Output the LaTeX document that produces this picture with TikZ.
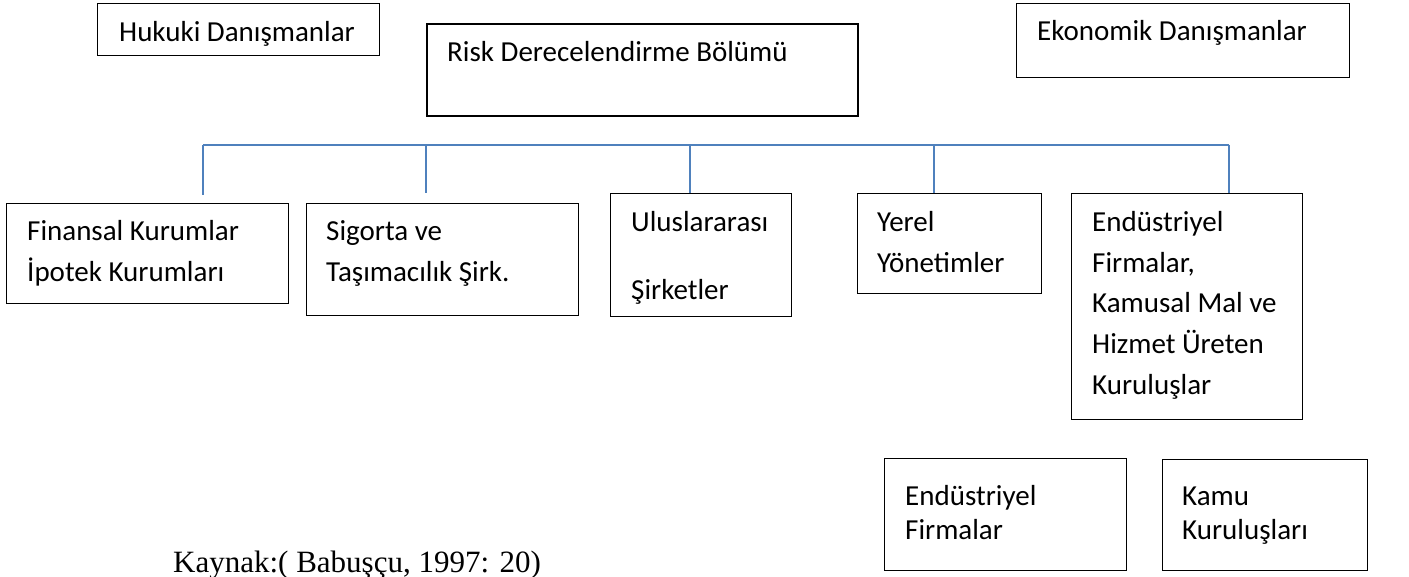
\documentclass[tikz,border=0pt]{standalone}
\usepackage{fontspec}
\setmainfont{Carlito}
\newfontfamily\kaynakfont{Liberation Serif}
\definecolor{busblue}{RGB}{79,129,189}

\begin{document}
\begin{tikzpicture}[x=1pt, y=-1pt,
  box/.style={draw, line width=1.3pt, inner sep=0pt, anchor=north west},
  txt/.style={anchor=base west, inner sep=0pt, align=left, font=\fontsize{29}{41}\selectfont},
  bus/.style={draw=busblue, line width=1.6pt}]
\useasboundingbox (0,0) rectangle (1409,577);

% top row
\node[box, minimum width=282pt, minimum height=52pt] (hukuki) at (97,3) {};
\node[box, line width=2pt, minimum width=431pt, minimum height=92pt] (risk) at (426,23) {};
\node[box, minimum width=333pt, minimum height=74pt] (ekonomik) at (1016,3) {};
\node[txt] (hukukiT) at (119,42) {Hukuki Danışmanlar};
\node[txt] (riskT) at (447,62) {Risk Derecelendirme Bölümü};
\node[txt] (ekonomikT) at (1037,41) {Ekonomik Danışmanlar};

% second row (text placed at the baseline of its last line)
\node[box, minimum width=282pt, minimum height=100pt] (finansal) at (6,203) {};
\node[box, minimum width=272pt, minimum height=112pt] (sigorta) at (306,203) {};
\node[box, minimum width=181pt, minimum height=123pt] (ulus) at (610,193) {};
\node[box, minimum width=184pt, minimum height=100pt] (yerel) at (857,193) {};
\node[box, minimum width=231pt, minimum height=226pt] (endkamu) at (1071,193) {};
\node[txt] (finansalT) at (27,282) {Finansal Kurumlar\\İpotek Kurumları};
\node[txt] (sigortaT) at (326,282) {Sigorta ve\\Taşımacılık Şirk.};
\node[txt] (ulusT) at (631,300) {Uluslararası\\[27pt]Şirketler};
\node[txt] (yerelT) at (877,273) {Yerel\\Yönetimler};
\node[txt] (endkamuT) at (1092,395) {Endüstriyel\\Firmalar,\\Kamusal Mal ve\\Hizmet Üreten\\Kuruluşlar};

% third row
\node[box, minimum width=242pt, minimum height=112pt] (endfirma) at (884,458) {};
\node[box, minimum width=205pt, minimum height=111pt] (kamu) at (1162,459) {};
\node[txt, font=\fontsize{29}{34}\selectfont] (endfirmaT) at (905,539) {Endüstriyel\\Firmalar};
\node[txt, font=\fontsize{29}{34}\selectfont] (kamuT) at (1182,539) {Kamu\\Kuruluşları};

% source
\node[anchor=base west, inner sep=0pt, font=\kaynakfont\fontsize{31}{36}\selectfont] (kaynak) at (173,572) {Kaynak:( Babuşçu, 1997: 20)};

% blue bus
\coordinate (bw) at (203,145);
\coordinate (b2) at (426,145);
\coordinate (b3) at (690,145);
\coordinate (b4) at (934,145);
\coordinate (be) at (1229,145);
\coordinate (d1) at (203,195);
\coordinate (d2) at (426,193);
\draw[bus] (bw) -- (be);
\draw[bus] (bw) -- (d1);
\draw[bus] (b2) -- (d2);
\draw[bus] (b3) -- (b3 |- ulus.north);
\draw[bus] (b4) -- (b4 |- yerel.north);
\draw[bus] (be) -- (be |- endkamu.north);
\end{tikzpicture}
\end{document}
